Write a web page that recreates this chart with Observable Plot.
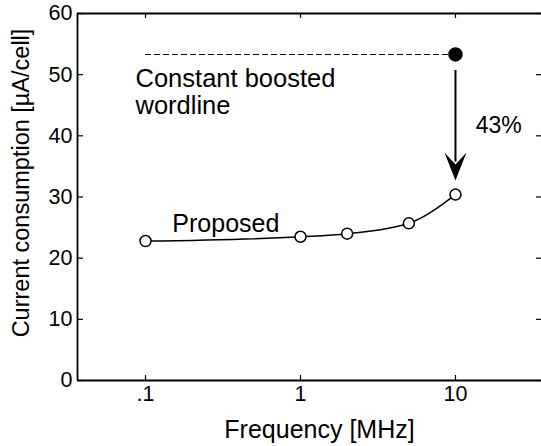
<!DOCTYPE html>
<html>
<head>
<meta charset="utf-8">
<script src="https://cdn.jsdelivr.net/npm/d3@7"></script>
<script src="https://cdn.jsdelivr.net/npm/@observablehq/plot@0.6"></script>
<style>
  html, body { margin: 0; padding: 0; background: white; }
</style>
</head>
<body>
<div id="chart"></div>
<script>
// Data
const freq = [0.1, 1, 2, 5, 10];               // MHz
const proposed = [22.8, 23.5, 24.0, 25.7, 30.4]; // µA/cell
const boostedFreq = [0.1, 10];
const boostedLevel = 53.3;
const arrowFrom = 50.7;
const arrowTo = 32.7;
const xTicks = [0.1, 1, 10];
const xTickLabels = [".1", "1", "10"];
const yTicks = [0, 10, 20, 30, 40, 50, 60];

const W = 541, H = 446, ML = 77, MR = 0, MT = 13, MB = 66;
const innerW = W - ML - MR, innerH = H - MT - MB;
const font = "'Liberation Sans', Arial, sans-serif";

const arrowHead = {
  draw(ctx) {
    ctx.moveTo(0, 0);
    ctx.lineTo(-11, -28);
    ctx.lineTo(0, -16);
    ctx.lineTo(11, -28);
    ctx.closePath();
  }
};

const propData = freq.map((f, i) => ({f, v: proposed[i]}));
const boostData = boostedFreq.map(f => ({f, v: boostedLevel}));

const chart = Plot.plot({
  width: W, height: H,
  marginLeft: ML, marginRight: MR, marginTop: MT, marginBottom: MB,
  style: {fontFamily: font, fontSize: "21px", background: "white", color: "black"},
  x: {type: "log", domain: [0.0364, 35.9]},
  y: {domain: [0, 60]},
  marks: [
    // frame lines (left, bottom, top)
    Plot.ruleX([0.0364], {stroke: "black", strokeWidth: 1.8}),
    Plot.ruleY([0, 60], {stroke: "black", strokeWidth: 1.8}),
    // inward ticks
    Plot.tickY(yTicks, {y: d => d, insetRight: innerW - 6, stroke: "black", strokeWidth: 1.2}),
    Plot.tickY(yTicks, {y: d => d, insetLeft: innerW - 5, stroke: "black", strokeWidth: 1.2}),
    Plot.tickX(xTicks, {x: d => d, insetTop: innerH - 5, stroke: "black", strokeWidth: 1.2}),
    Plot.tickX(xTicks, {x: d => d, insetBottom: innerH - 5, stroke: "black", strokeWidth: 1.2}),
    // tick labels
    Plot.axisX(xTicks, {tickSize: 0, tickPadding: 5, label: null,
      tickFormat: d => xTickLabels[xTicks.indexOf(d)], fontSize: 21.5}),
    Plot.axisY(yTicks, {tickSize: 0, tickPadding: 5, label: null, fontSize: 21.5}),
    // axis titles
    Plot.text(["Frequency [MHz]"], {frameAnchor: "bottom", text: d => d, dx: 10, dy: 57,
      textAnchor: "middle", lineAnchor: "bottom", fontSize: 25}),
    Plot.text(["Current consumption [µA/cell]"], {frameAnchor: "left", text: d => d,
      dx: -56, dy: -14, rotate: -90, textAnchor: "middle", lineAnchor: "middle", fontSize: 23.5}),
    // boosted wordline
    Plot.line(boostData, {x: "f", y: "v", stroke: "black", strokeWidth: 1.2, strokeDasharray: "5,4"}),
    Plot.dot([boostData[1]], {x: "f", y: "v", r: 6.5, fill: "black", stroke: "black"}),
    // arrow
    Plot.ruleX([10], {x: d => d, y1: arrowFrom, y2: arrowTo + 3, stroke: "black", strokeWidth: 2}),
    Plot.dot([{f: 10, v: arrowTo}], {x: "f", y: "v", symbol: arrowHead, fill: "black", stroke: "none"}),
    // proposed curve
    Plot.line(propData, {x: "f", y: "v", curve: "monotone-x", stroke: "black", strokeWidth: 1.5}),
    Plot.dot(propData, {x: "f", y: "v", r: 5.5, fill: "white", stroke: "black", strokeWidth: 1.5}),
    // annotations
    Plot.text([{f: 0.1, v: 43.65, t: "Constant boosted\nwordline"}], {x: "f", y: "v", text: "t",
      dx: -10, textAnchor: "start", lineAnchor: "bottom", lineHeight: 1.03, fontSize: 25.5}),
    Plot.text([{f: 0.149, v: 24.2, t: "Proposed"}], {x: "f", y: "v", text: "t",
      textAnchor: "start", lineAnchor: "bottom", fontSize: 25}),
    Plot.text([{f: 13.5, v: 40.4, t: "43%"}], {x: "f", y: "v", text: "t",
      textAnchor: "start", lineAnchor: "bottom", fontSize: 23})
  ]
});
document.getElementById("chart").appendChild(chart);
</script>
</body>
</html>
